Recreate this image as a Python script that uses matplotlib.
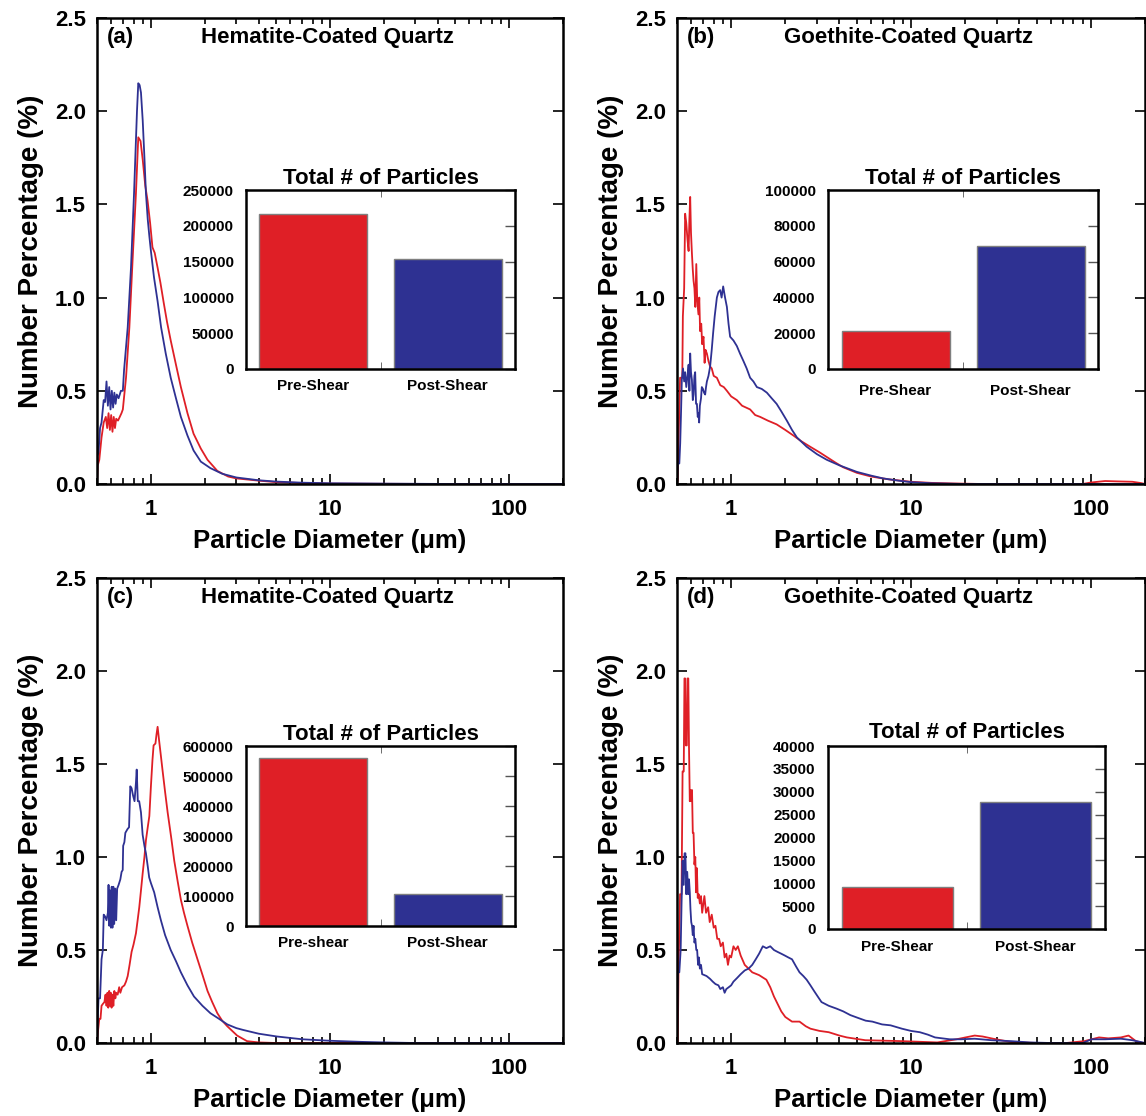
import numpy as np
import matplotlib.pyplot as plt
from matplotlib.ticker import FixedLocator, NullFormatter, LogLocator, MultipleLocator, FormatStrFormatter

plt.rcParams['font.family'] = ['Liberation Sans', 'DejaVu Sans']
plt.rcParams['font.weight'] = 'bold'
plt.rcParams['axes.labelweight'] = 'bold'

RED = '#DF1F26'
BLUE = '#2E3192'

# (diameter um, number %)
a_pre = [(0.5, 0.0), (0.505, 0.10), (0.515, 0.13), (0.53, 0.25), (0.545, 0.33), (0.56, 0.36),
         (0.57, 0.30), (0.58, 0.38), (0.59, 0.29), (0.60, 0.37), (0.61, 0.28), (0.62, 0.36),
         (0.63, 0.30), (0.64, 0.35), (0.655, 0.34), (0.67, 0.36), (0.685, 0.38), (0.697, 0.40),
         (0.726, 0.57), (0.758, 0.84), (0.79, 1.20), (0.825, 1.56), (0.85, 1.86), (0.875, 1.84),
         (0.90, 1.74), (0.93, 1.60), (0.958, 1.52), (0.99, 1.40), (1.02, 1.27), (1.05, 1.24),
         (1.09, 1.16), (1.13, 1.08), (1.18, 0.97), (1.23, 0.87), (1.29, 0.77), (1.38, 0.64),
         (1.47, 0.52), (1.6, 0.38), (1.73, 0.27), (1.9, 0.19), (2.07, 0.13), (2.35, 0.07),
         (2.7, 0.04), (3.0, 0.03), (4.0, 0.018), (5.0, 0.01), (7.0, 0.005), (10, 0.002),
         (20, 0.001), (50, 0.0), (200, 0.0)]
a_post = [(0.5, 0.0), (0.503, 0.15), (0.51, 0.17), (0.52, 0.30), (0.53, 0.33), (0.545, 0.45),
          (0.555, 0.44), (0.565, 0.55), (0.575, 0.42), (0.585, 0.52), (0.595, 0.40), (0.605, 0.50),
          (0.615, 0.41), (0.625, 0.49), (0.635, 0.43), (0.645, 0.48), (0.66, 0.46), (0.68, 0.50),
          (0.697, 0.50), (0.708, 0.61), (0.742, 0.84), (0.774, 1.16), (0.805, 1.56), (0.836, 2.0),
          (0.85, 2.15), (0.865, 2.14), (0.88, 2.10), (0.90, 1.95), (0.92, 1.75), (0.938, 1.56),
          (0.96, 1.42), (0.98, 1.33), (1.0, 1.25), (1.04, 1.11), (1.09, 0.98), (1.14, 0.84),
          (1.21, 0.70), (1.29, 0.57), (1.38, 0.46), (1.47, 0.36), (1.6, 0.26), (1.73, 0.18),
          (1.9, 0.12), (2.15, 0.085), (2.5, 0.055), (3.0, 0.035), (4.0, 0.02), (5.0, 0.013),
          (7.0, 0.007), (10, 0.004), (20, 0.002), (50, 0.0), (200, 0.0)]

b_pre = [(0.5, 0.0), (0.505, 0.02), (0.512, 0.30), (0.52, 0.57), (0.535, 0.57), (0.539, 0.90),
         (0.548, 1.05), (0.555, 1.45), (0.563, 1.40), (0.572, 1.31), (0.58, 1.25), (0.586, 1.42),
         (0.592, 1.54), (0.598, 1.35), (0.605, 1.24), (0.612, 1.15), (0.618, 1.09), (0.625, 1.05),
         (0.632, 0.95), (0.64, 1.18), (0.648, 0.98), (0.658, 0.91), (0.665, 1.0), (0.672, 0.82),
         (0.682, 0.86), (0.69, 0.75), (0.702, 0.79), (0.712, 0.65), (0.72, 0.72), (0.733, 0.70),
         (0.748, 0.66), (0.764, 0.63), (0.78, 0.62), (0.80, 0.58), (0.833, 0.57), (0.87, 0.53),
         (0.91, 0.52), (0.947, 0.50), (1.0, 0.47), (1.076, 0.45), (1.15, 0.42), (1.275, 0.40),
         (1.36, 0.37), (1.45, 0.36), (1.6, 0.34), (1.79, 0.32), (2.0, 0.29), (2.22, 0.26),
         (2.45, 0.23), (2.75, 0.20), (3.1, 0.17), (3.4, 0.145), (3.8, 0.115), (4.19, 0.09),
         (5.0, 0.06), (6.0, 0.04), (7.5, 0.025), (10, 0.012), (13, 0.006), (17, 0.003),
         (25, 0.0), (90, 0.0), (100, 0.008), (120, 0.016), (140, 0.014), (170, 0.012),
         (190, 0.005), (200, 0.0)]
b_post = [(0.5, 0.0), (0.505, 0.11), (0.515, 0.11), (0.521, 0.22), (0.527, 0.40), (0.532, 0.56),
          (0.54, 0.62), (0.548, 0.55), (0.555, 0.60), (0.563, 0.52), (0.572, 0.58), (0.58, 0.64),
          (0.586, 0.50), (0.592, 0.70), (0.598, 0.60), (0.605, 0.56), (0.612, 0.45), (0.618, 0.48),
          (0.625, 0.58), (0.631, 0.60), (0.638, 0.43), (0.645, 0.43), (0.652, 0.36), (0.658, 0.38),
          (0.664, 0.33), (0.67, 0.42), (0.68, 0.46), (0.687, 0.52), (0.697, 0.51), (0.707, 0.49),
          (0.717, 0.48), (0.725, 0.52), (0.733, 0.55), (0.748, 0.58), (0.764, 0.63), (0.78, 0.72),
          (0.794, 0.81), (0.81, 0.90), (0.833, 1.00), (0.85, 1.03), (0.869, 1.04), (0.885, 1.00),
          (0.903, 1.06), (0.925, 1.0), (0.947, 0.95), (0.967, 0.86), (0.987, 0.79), (1.03, 0.77),
          (1.076, 0.74), (1.12, 0.70), (1.17, 0.66), (1.22, 0.62), (1.275, 0.57), (1.33, 0.55),
          (1.39, 0.52), (1.48, 0.51), (1.58, 0.49), (1.68, 0.46), (1.79, 0.43), (1.9, 0.39),
          (2.04, 0.34), (2.18, 0.29), (2.32, 0.25), (2.63, 0.20), (3.0, 0.16), (3.4, 0.13),
          (4.0, 0.10), (5.0, 0.065), (6.0, 0.045), (7.0, 0.03), (8.5, 0.018), (10, 0.01),
          (13, 0.004), (20, 0.0), (200, 0.0)]

c_pre = [(0.5, 0.0), (0.506, 0.06), (0.515, 0.13), (0.523, 0.13), (0.53, 0.20), (0.539, 0.21),
         (0.55, 0.22), (0.558, 0.26), (0.565, 0.20), (0.572, 0.27), (0.578, 0.19), (0.585, 0.28),
         (0.59, 0.20), (0.597, 0.27), (0.603, 0.19), (0.61, 0.26), (0.617, 0.20), (0.625, 0.28),
         (0.633, 0.24), (0.64, 0.27), (0.652, 0.26), (0.665, 0.30), (0.675, 0.27), (0.69, 0.30),
         (0.711, 0.31), (0.726, 0.33), (0.742, 0.36), (0.76, 0.42), (0.78, 0.49), (0.80, 0.53),
         (0.825, 0.59), (0.843, 0.66), (0.861, 0.73), (0.88, 0.82), (0.899, 0.91), (0.92, 1.0),
         (0.938, 1.09), (0.96, 1.16), (0.98, 1.22), (1.0, 1.38), (1.02, 1.52), (1.035, 1.60),
         (1.06, 1.61), (1.075, 1.66), (1.09, 1.70), (1.11, 1.63), (1.135, 1.55), (1.16, 1.47),
         (1.2, 1.35), (1.24, 1.24), (1.3, 1.10), (1.35, 0.98), (1.41, 0.87), (1.47, 0.77),
         (1.53, 0.70), (1.60, 0.63), (1.7, 0.54), (1.82, 0.45), (1.95, 0.36), (2.07, 0.28),
         (2.2, 0.22), (2.35, 0.16), (2.5, 0.12), (2.67, 0.09), (3.03, 0.04), (3.44, 0.01),
         (4.0, 0.003), (5.0, 0.0), (200, 0.0)]
c_post = [(0.5, 0.0), (0.503, 0.09), (0.51, 0.24), (0.52, 0.24), (0.53, 0.45), (0.539, 0.50),
          (0.545, 0.69), (0.555, 0.68), (0.565, 0.66), (0.575, 0.70), (0.58, 0.85), (0.586, 0.63),
          (0.592, 0.82), (0.598, 0.62), (0.604, 0.84), (0.61, 0.62), (0.617, 0.84), (0.624, 0.64),
          (0.632, 0.83), (0.64, 0.66), (0.648, 0.83), (0.66, 0.85), (0.675, 0.88), (0.686, 0.92),
          (0.696, 0.93), (0.70, 1.06), (0.711, 1.08), (0.72, 1.13), (0.74, 1.15), (0.755, 1.16),
          (0.767, 1.38), (0.78, 1.37), (0.795, 1.33), (0.81, 1.30), (0.825, 1.40), (0.833, 1.47),
          (0.845, 1.30), (0.86, 1.30), (0.88, 1.24), (0.899, 1.12), (0.92, 1.06), (0.938, 1.02),
          (0.96, 0.95), (0.978, 0.89), (1.0, 0.86), (1.043, 0.81), (1.09, 0.73), (1.137, 0.66),
          (1.2, 0.58), (1.29, 0.50), (1.38, 0.44), (1.47, 0.38), (1.6, 0.31), (1.74, 0.25),
          (1.94, 0.20), (2.15, 0.16), (2.4, 0.13), (2.67, 0.10), (3.0, 0.08), (3.28, 0.07),
          (4.0, 0.05), (5.05, 0.035), (7.0, 0.02), (10, 0.012), (15, 0.006), (20, 0.003),
          (30, 0.0), (200, 0.0)]

d_pre = [(0.5, 0.0), (0.505, 0.0), (0.51, 0.40), (0.52, 0.80), (0.53, 0.80), (0.537, 1.46),
         (0.545, 1.46), (0.55, 1.96), (0.555, 1.96), (0.56, 1.60), (0.567, 1.60), (0.572, 1.96),
         (0.578, 1.96), (0.583, 1.59), (0.589, 1.30), (0.595, 1.36), (0.6, 1.30), (0.606, 1.36),
         (0.612, 1.13), (0.618, 1.13), (0.625, 0.96), (0.632, 1.0), (0.638, 0.81), (0.645, 0.94),
         (0.652, 0.78), (0.66, 0.80), (0.67, 0.75), (0.68, 0.79), (0.69, 0.70), (0.71, 0.79),
         (0.725, 0.70), (0.745, 0.73), (0.76, 0.65), (0.78, 0.69), (0.80, 0.62), (0.818, 0.63),
         (0.837, 0.56), (0.857, 0.56), (0.875, 0.52), (0.9, 0.54), (0.92, 0.46), (0.94, 0.48),
         (0.96, 0.42), (0.98, 0.47), (1.0, 0.46), (1.03, 0.52), (1.06, 0.50), (1.09, 0.52),
         (1.13, 0.47), (1.19, 0.42), (1.25, 0.40), (1.31, 0.38), (1.43, 0.365), (1.57, 0.34),
         (1.65, 0.30), (1.73, 0.25), (1.9, 0.17), (2.0, 0.14), (2.18, 0.115), (2.4, 0.115),
         (2.6, 0.09), (2.76, 0.077), (3.1, 0.065), (3.49, 0.058), (4.0, 0.04), (4.4, 0.03),
         (5.57, 0.015), (8.9, 0.01), (14, 0.003), (17.9, 0.02), (22.6, 0.04), (25, 0.035),
         (28.6, 0.023), (36, 0.005), (50, 0.0), (73, 0.0), (92, 0.01), (111, 0.03), (125, 0.025),
         (147, 0.03), (162, 0.04), (178, 0.01), (195, 0.0), (200, 0.0)]
d_post = [(0.5, 0.0), (0.505, 0.38), (0.515, 0.38), (0.524, 0.50), (0.53, 0.75), (0.537, 0.98),
          (0.545, 0.85), (0.551, 1.02), (0.557, 1.02), (0.563, 0.80), (0.57, 0.92), (0.577, 0.80),
          (0.583, 0.88), (0.589, 0.81), (0.594, 0.72), (0.6, 0.65), (0.606, 0.63), (0.612, 0.58),
          (0.618, 0.63), (0.625, 0.54), (0.632, 0.56), (0.64, 0.50), (0.647, 0.50), (0.655, 0.42),
          (0.662, 0.46), (0.67, 0.40), (0.68, 0.42), (0.69, 0.37), (0.71, 0.365), (0.73, 0.36),
          (0.763, 0.345), (0.79, 0.33), (0.818, 0.317), (0.85, 0.31), (0.87, 0.29), (0.9, 0.30),
          (0.92, 0.27), (0.94, 0.29), (0.97, 0.30), (1.0, 0.31), (1.03, 0.33), (1.08, 0.35),
          (1.13, 0.37), (1.19, 0.39), (1.25, 0.40), (1.31, 0.42), (1.37, 0.45), (1.43, 0.48),
          (1.50, 0.52), (1.57, 0.51), (1.65, 0.52), (1.73, 0.50), (1.81, 0.49), (1.9, 0.48),
          (1.99, 0.47), (2.08, 0.46), (2.18, 0.45), (2.3, 0.41), (2.4, 0.38), (2.52, 0.36),
          (2.63, 0.34), (2.76, 0.31), (2.89, 0.28), (3.03, 0.25), (3.18, 0.22), (3.49, 0.20),
          (3.85, 0.185), (4.2, 0.17), (4.6, 0.15), (5.07, 0.135), (5.6, 0.12), (6.1, 0.115),
          (6.9, 0.10), (7.7, 0.095), (8.9, 0.077), (10, 0.065), (11.2, 0.058), (12.4, 0.045),
          (13.6, 0.03), (16.4, 0.02), (19, 0.02), (22.6, 0.023), (28, 0.015), (36, 0.01),
          (45.7, 0.003), (60, 0.0), (90, 0.0), (101, 0.02), (120, 0.02), (147, 0.023),
          (170, 0.015), (190, 0.005), (200, 0.0)]

# total particle counts (pre, post)
totals_a = [217000, 153000]
totals_b = [21200, 68700]
totals_c = [560000, 106000]
totals_d = [9200, 27700]
bar_labels_ab = ['Pre-Shear', 'Post-Shear']
bar_labels_c = ['Pre-shear', 'Post-Shear']
bar_labels_d = ['Pre-Shear', 'Post-Shear']

x_ticks = [1, 10, 100]
y_ticks = [0.0, 0.5, 1.0, 1.5, 2.0, 2.5]

W, H = 1146, 1116
fig = plt.figure(figsize=(W / 100, H / 100), dpi=100)


def px_box(l, t, r, b):
    return [l / W, 1 - b / H, (r - l) / W, (b - t) / H]


def panel(box, inbox, letter, title, pre, post, totals, labels, ymax, ystep, lab_pad, tit_pad):
    ax = fig.add_axes(px_box(*box))
    pre = np.array(pre)
    post = np.array(post)
    ax.plot(pre[:, 0], pre[:, 1], color=RED, lw=1.3)
    ax.plot(post[:, 0], post[:, 1], color=BLUE, lw=1.3)
    ax.set_xscale('log')
    ax.set_xlim(0.5, 200)
    ax.set_ylim(0, 2.5)
    ax.xaxis.set_major_locator(FixedLocator(x_ticks))
    ax.set_xticklabels([str(t) for t in x_ticks])
    ax.xaxis.set_minor_locator(LogLocator(base=10, subs=np.arange(2, 10)))
    ax.xaxis.set_minor_formatter(NullFormatter())
    ax.set_yticks(y_ticks)
    ax.yaxis.set_major_formatter(FormatStrFormatter('%.1f'))
    ax.tick_params(which='both', direction='in', top=True, right=True, width=1.2)
    ax.tick_params(which='major', length=7, labelsize=16)
    ax.tick_params(which='minor', length=4)
    ax.tick_params(axis='x', which='major', pad=11)
    ax.tick_params(axis='y', which='major', pad=8)
    for s in ax.spines.values():
        s.set_linewidth(1.8)
    ax.set_xlabel('Particle Diameter (\u03bcm)', fontsize=18.5, fontweight='bold', labelpad=6)
    ax.set_ylabel('Number Percentage (%)', fontsize=20, fontweight='bold', labelpad=8)
    ax.text(0.022, 0.958, letter, transform=ax.transAxes, fontsize=16, fontweight='bold',
            ha='left', va='center')
    ax.text(0.494, 0.958, title, transform=ax.transAxes, fontsize=16, fontweight='bold',
            ha='center', va='center')

    ia = fig.add_axes(px_box(*inbox))
    ia.bar([0, 1], totals, width=0.8, color=[RED, BLUE], edgecolor='#7f7f7f', linewidth=1.0)
    ia.set_xlim(-0.5, 1.5)
    ia.set_ylim(0, ymax)
    ia.yaxis.set_major_locator(MultipleLocator(ystep))
    ia.set_xticks([0, 1])
    ia.set_xticklabels(labels)
    ia.xaxis.set_minor_locator(FixedLocator([0.5]))
    ia.tick_params(axis='x', which='major', length=0, labelsize=11, pad=lab_pad)
    ia.tick_params(axis='x', which='minor', direction='in', top=True, bottom=True, length=5,
                   color='#555555')
    ia.tick_params(axis='y', direction='in', left=False, right=True, length=7, width=1.0,
                   labelsize=11, pad=9, color='#555555')
    for s in ia.spines.values():
        s.set_linewidth(1.8)
    ia.set_title('Total # of Particles', fontsize=16, fontweight='bold', pad=tit_pad)
    return ax


panel((97, 18, 563, 484), (246, 190, 515, 369), '(a)', 'Hematite-Coated Quartz',
      a_pre, a_post, totals_a, bar_labels_ab, 250000, 50000, 7, 4)
panel((677, 18, 1145, 484), (828, 190, 1098, 369), '(b)', 'Goethite-Coated Quartz',
      b_pre, b_post, totals_b, bar_labels_ab, 100000, 20000, 11, 4)
panel((97, 578, 563, 1043), (246, 746, 515, 926), '(c)', 'Hematite-Coated Quartz',
      c_pre, c_post, totals_c, bar_labels_c, 600000, 100000, 7, 4)
panel((677, 578, 1145, 1043), (828, 746, 1105, 929), '(d)', 'Goethite-Coated Quartz',
      d_pre, d_post, totals_d, bar_labels_d, 40000, 5000, 8, 6)

fig.savefig('out.png', dpi=100)
